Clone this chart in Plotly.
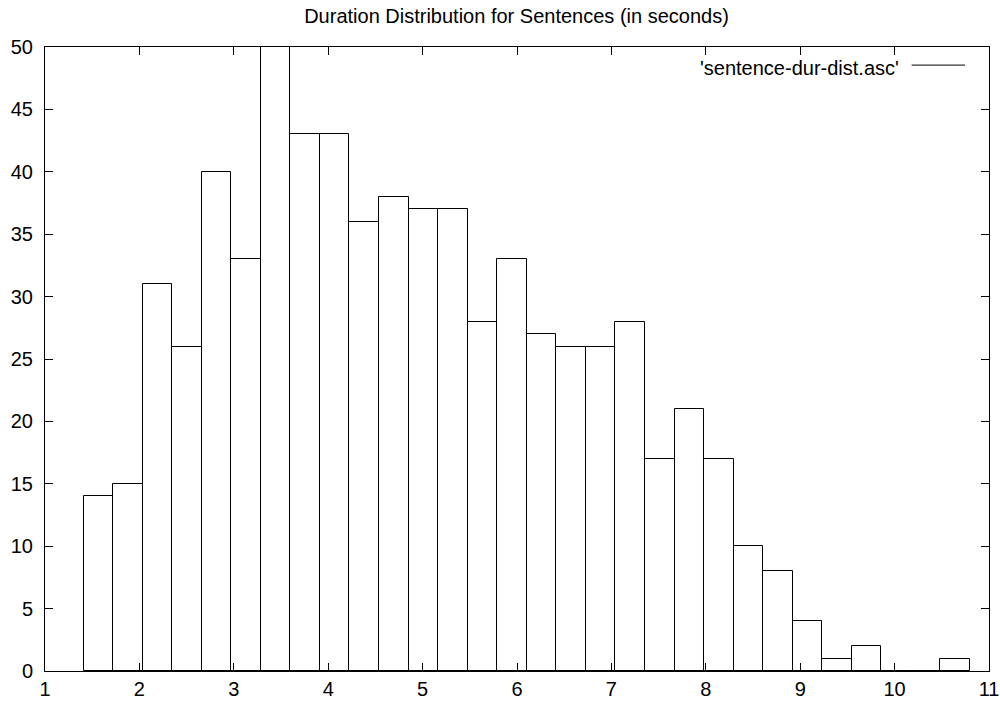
import plotly.graph_objects as go

# Histogram bins (bin centres, seconds) and sentence counts
bin_centers = [1.565, 1.878, 2.191, 2.504, 2.817, 3.130, 3.443, 3.756, 4.069, 4.382,
               4.695, 5.008, 5.321, 5.634, 5.947, 6.260, 6.573, 6.886, 7.199, 7.512,
               7.825, 8.138, 8.451, 8.764, 9.077, 9.390, 9.703, 10.016, 10.329, 10.642]
counts = [14, 15, 31, 26, 40, 33, 50, 43, 43, 36,
          38, 37, 37, 28, 33, 27, 26, 26, 28, 17,
          21, 17, 10, 8, 4, 1, 2, 0, 0, 1]
bin_width = 0.313

x_ticks = list(range(1, 12))
y_ticks = list(range(0, 51, 5))

FONT = "Liberation Sans, Arial, Helvetica, sans-serif"
FS = 20

fig = go.Figure()
fig.add_trace(go.Bar(
    x=bin_centers,
    y=counts,
    width=[bin_width] * len(bin_centers),
    marker=dict(color="white", line=dict(color="black", width=1)),
    showlegend=False,
))

axis_common = dict(
    showline=True, linecolor="black", linewidth=1, mirror="ticks",
    ticks="inside", ticklen=8, tickwidth=1, tickcolor="black",
    showgrid=False, zeroline=False, automargin=False,
    tickfont=dict(family=FONT, size=FS, color="black"),
)

fig.update_xaxes(range=[1, 11], tickvals=x_ticks, ticktext=[str(v) for v in x_ticks], **axis_common)
fig.update_yaxes(range=[0, 50], tickvals=y_ticks, ticktext=[str(v) for v in y_ticks],
                 ticklabelstandoff=7, **axis_common)

# Key: label on the left, line sample on the right
fig.add_annotation(
    text="'sentence-dur-dist.asc'", xref="paper", yref="paper",
    x=0.907, y=0.966, xanchor="right", yanchor="middle", showarrow=False,
    font=dict(family=FONT, size=FS, color="black"),
)
fig.add_shape(type="line", xref="paper", yref="paper",
              x0=0.918, x1=0.9746, y0=0.971, y1=0.971,
              line=dict(color="black", width=1))

fig.update_layout(
    width=1000, height=702,
    margin=dict(l=45, r=11, t=47, b=31),
    paper_bgcolor="white", plot_bgcolor="white",
    bargap=0,
    title=dict(text="Duration Distribution for Sentences (in seconds)",
               x=0.5165, xanchor="center", y=0.9765, yanchor="middle",
               font=dict(family=FONT, size=FS, color="black")),
)

fig.write_html("out.html")
